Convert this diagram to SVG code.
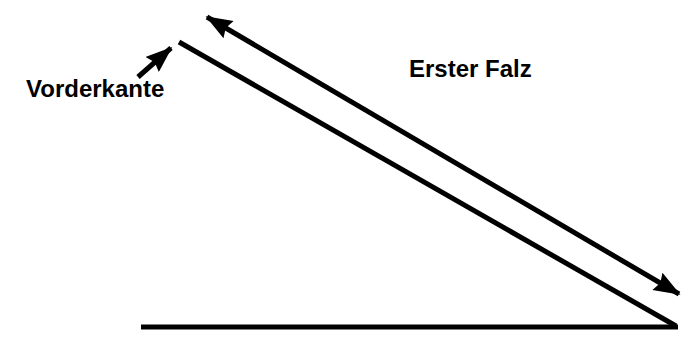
<svg xmlns="http://www.w3.org/2000/svg" width="687" height="339" viewBox="0 0 687 339">
<defs>
<style>
.ln{stroke:#000;stroke-width:5;fill:none}
.lbl{font-family:"Liberation Sans",Arial,sans-serif;font-weight:bold;font-size:24px;fill:#000}
</style>
<marker id="ah" viewBox="0 0 16 12" refX="15" refY="6" markerWidth="5.4" markerHeight="4" orient="auto-start-reverse" markerUnits="strokeWidth">
<path d="M0,0 L16,6 L0,12 L2,6 z" fill="#000"/>
</marker>
</defs>
<g id="sheet">
<line class="ln" x1="179" y1="42" x2="676" y2="326"/>
<line class="ln" x1="141" y1="327" x2="678" y2="327"/>
</g>
<g id="connectors">
<line class="ln" x1="207" y1="17" x2="679" y2="294" marker-start="url(#ah)" marker-end="url(#ah)"/>
<line class="ln" x1="138" y1="77" x2="171" y2="48" marker-end="url(#ah)"/>
</g>
<g id="label-vorderkante"><text class="lbl" x="26" y="97">Vorderkante</text></g>
<g id="label-falz"><text class="lbl" x="409" y="77">Erster Falz</text></g>
</svg>
